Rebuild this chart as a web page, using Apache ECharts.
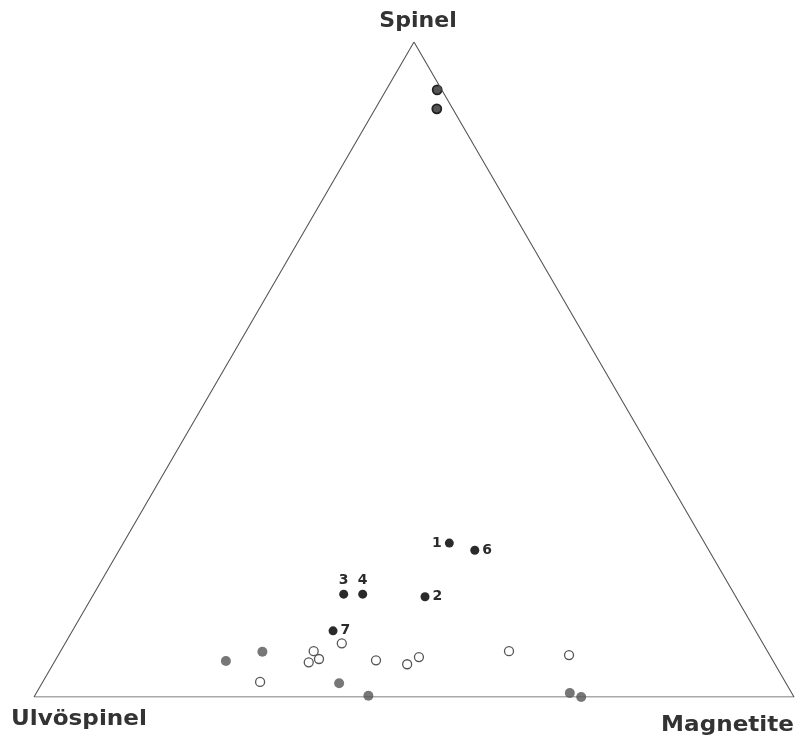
<!DOCTYPE html>
<html>
<head>
<meta charset="utf-8">
<script src="https://cdn.jsdelivr.net/npm/echarts@6/dist/echarts.min.js"></script>
<style>html,body{margin:0;padding:0;background:#fff}#c{width:795px;height:740px}</style>
</head>
<body>
<div id="c"></div>
<script>
// Ternary end-members
const endMembers = ['Ulvöspinel', 'Magnetite', 'Spinel'];

// Numbered analyses (mol %): spinel, magnetite; ulvöspinel = 100 - spinel - magnetite
const numLabels      = ['1', '6', '2', '3', '4', '7'];
const numSpinel      = [23.5, 22.4, 15.3, 15.7, 15.7, 10.1];
const numMagnetite   = [42.9, 46.8, 43.8, 32.9, 35.4, 34.3];

// Spinel-rich (half-filled) analyses
const hiSpinel       = [92.7, 89.8];
const hiMagnetite    = [6.7, 8.1];

// Grey filled analyses
const greySpinel     = [5.5, 6.9, 2.1, 0.2, 0.6, 0.0];
const greyMagnetite  = [22.5, 26.6, 39.1, 43.9, 70.2, 72.0];

// Open-circle analyses
const openSpinel     = [2.3, 7.0, 5.3, 5.8, 8.2, 5.6, 5.0, 6.1, 7.0, 6.4];
const openMagnetite  = [28.6, 33.3, 33.5, 34.6, 36.4, 42.2, 46.6, 47.6, 59.0, 67.2];

// ternary -> cartesian (Ulvöspinel at left, Magnetite at right, Spinel at apex)
function tern(s, m) { return [m + s / 2, s]; }
function pts(sArr, mArr) { return sArr.map((s, i) => tern(s, mArr[i])); }

const triangle = [tern(0, 0), tern(0, 100), tern(100, 0), tern(0, 0)];
const labelPos = ['left', 'right', 'right', 'top', 'top', 'right'];
const labelFont = 'bold 21px "DejaVu Sans"';

const chart = echarts.init(document.getElementById('c'));
chart.setOption({
  animation: false,
  grid: { left: 34, right: 1, top: 42, bottom: 43 },
  xAxis: { type: 'value', min: 0, max: 100, show: false },
  yAxis: { type: 'value', min: 0, max: 100, show: false },
  series: [
    {
      type: 'line', data: triangle, symbol: 'none', silent: true,
      lineStyle: { color: '#555', width: 1.1 }
    },
    {
      type: 'scatter', data: pts(openSpinel, openMagnetite),
      symbol: 'circle', symbolSize: 9,
      itemStyle: { color: '#fff', borderColor: '#555', borderWidth: 1.3, opacity: 1 }
    },
    {
      type: 'scatter', data: pts(greySpinel, greyMagnetite),
      symbol: 'circle', symbolSize: 10,
      itemStyle: { color: '#777', opacity: 1 }
    },
    {
      type: 'scatter', data: pts(hiSpinel, hiMagnetite),
      symbol: 'circle', symbolSize: 9,
      itemStyle: { color: '#555', borderColor: '#222', borderWidth: 1.8, opacity: 1 }
    },
    {
      type: 'scatter',
      data: pts(numSpinel, numMagnetite).map((p, i) => ({
        value: p,
        label: { show: true, formatter: numLabels[i], position: labelPos[i], distance: labelPos[i] === 'top' ? 2 : 3 }
      })),
      symbol: 'circle', symbolSize: 9,
      itemStyle: { color: '#2a2a2a', opacity: 1 },
      label: { color: '#2a2a2a', fontFamily: 'DejaVu Sans', fontWeight: 'bold', fontSize: 14, opacity: 1 }
    }
  ],
  graphic: [
    { type: 'text', x: 418, y: 11, scaleX: 1.05,
      style: { text: endMembers[2], font: labelFont, fill: '#333', textAlign: 'center', textVerticalAlign: 'top' } },
    { type: 'text', x: 11, y: 709, scaleX: 1.1,
      style: { text: endMembers[0], font: labelFont, fill: '#333', textAlign: 'left', textVerticalAlign: 'top' } },
    { type: 'text', x: 794, y: 715, scaleX: 1.1,
      style: { text: endMembers[1], font: labelFont, fill: '#333', textAlign: 'right', textVerticalAlign: 'top' } }
  ]
});
</script>
</body>
</html>
